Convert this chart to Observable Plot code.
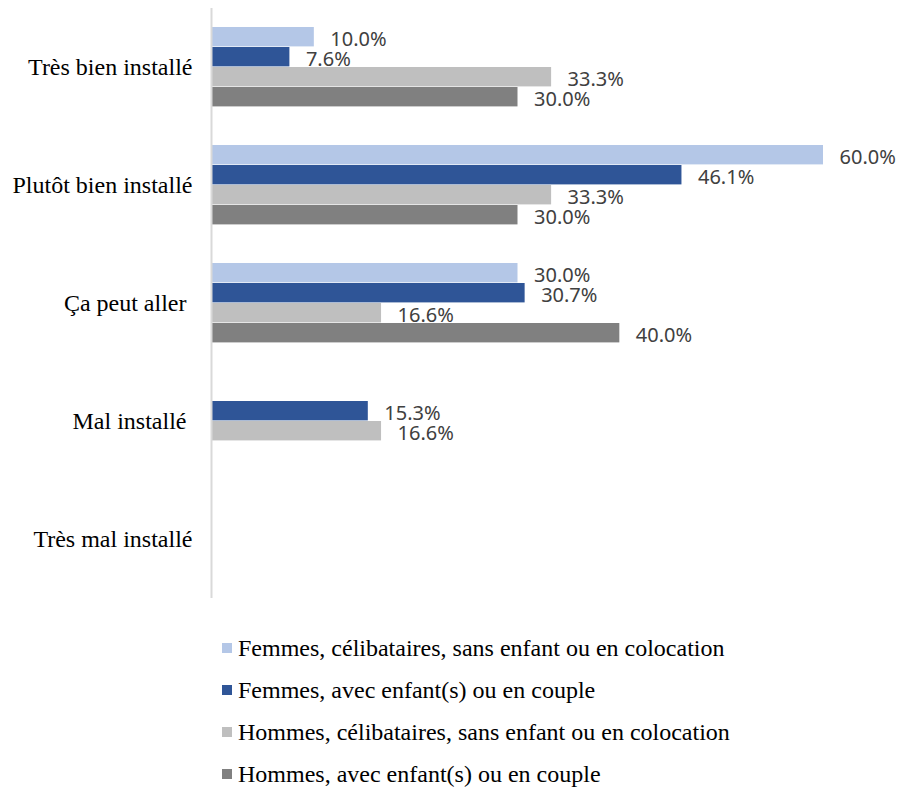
<!DOCTYPE html>
<html><head><meta charset="utf-8">
<script src="https://cdn.jsdelivr.net/npm/d3@7"></script>
<script src="https://cdn.jsdelivr.net/npm/@observablehq/plot@0.6"></script>
<style>
body{margin:0;background:#fff}
svg text{white-space:pre}
.legend{padding-top:17px;margin-left:222px;font-family:"Liberation Serif","Times New Roman",serif;font-size:24px;color:#000}
.legend .row{height:42px;display:flex;align-items:center}
.legend .sw{width:10px;height:10px;margin-right:6px;flex:none}
</style></head><body><div id="chart"></div><script>
const categories = ["Très bien installé", "Plutôt bien installé", "Ça peut aller ", "Mal installé ", "Très mal installé"];
const series = [
  "Femmes, célibataires, sans enfant ou en colocation",
  "Femmes, avec enfant(s) ou en couple",
  "Hommes, célibataires, sans enfant ou en colocation",
  "Hommes, avec enfant(s) ou en couple"
];
const femmesCelib  = [10.0, 60.0, 30.0, 0, 0];
const femmesCouple = [7.6, 46.1, 30.7, 15.3, 0];
const hommesCelib  = [33.3, 33.3, 16.6, 16.6, 0];
const hommesCouple = [30.0, 30.0, 40.0, 0, 0];
const colors = ["#b4c7e7", "#2f5597", "#bfbfbf", "#808080"];

const valuesBySeries = [femmesCelib, femmesCouple, hommesCelib, hommesCouple];
const data = [];
categories.forEach((c, i) => {
  series.forEach((s, j) => {
    data.push({cat: c, series: s, value: valuesBySeries[j][i]});
  });
});
const labelled = data.filter(d => d.value > 0);

const chart = Plot.plot({
  width: 900,
  height: 610,
  marginTop: 8,
  marginBottom: 12,
  marginLeft: 212,
  marginRight: 77,
  x: {domain: [0, 60], axis: null},
  y: {domain: series, axis: null, paddingInner: 0, paddingOuter: 0.95},
  fy: {domain: categories, padding: 0, label: null},
  color: {domain: series, range: colors},
  marks: [
    Plot.axisFy({anchor: "left", tickSize: 0, tickPadding: 20, fontSize: 24, fontFamily: "Liberation Serif, Times New Roman, serif", fill: "#000", label: null}),
    Plot.barX(data, {fy: "cat", y: "series", x: "value", fill: "series", insetBottom: 0.6}),
    Plot.ruleX([0], {stroke: "#d9d9d9", strokeWidth: 2, dx: -1}),
    Plot.text(labelled, {fy: "cat", y: "series", x: "value", text: d => d.value.toFixed(1) + "%", textAnchor: "start", dx: 16, dy: 2, fontSize: 20, fontFamily: "Noto Sans, sans-serif", fill: "#404040"})
  ]
});
chart.style.fontFamily = "Liberation Serif, serif";
document.getElementById("chart").appendChild(chart);

const legend = document.createElement("div");
legend.className = "legend";
series.forEach((s, j) => {
  const row = document.createElement("div");
  row.className = "row";
  const sw = document.createElement("span");
  sw.className = "sw";
  sw.style.background = colors[j];
  const t = document.createElement("span");
  t.textContent = s;
  row.appendChild(sw);
  row.appendChild(t);
  legend.appendChild(row);
});
document.getElementById("chart").appendChild(legend);
</script></body></html>
